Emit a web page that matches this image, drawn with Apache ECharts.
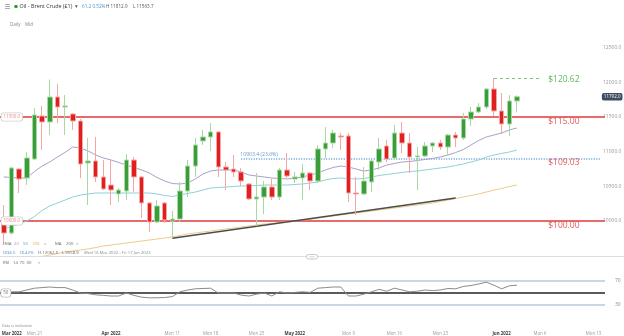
<!DOCTYPE html>
<html>
<head>
<meta charset="utf-8">
<script src="https://cdn.jsdelivr.net/npm/echarts@6/dist/echarts.min.js"></script>
<style>
html,body{margin:0;padding:0;background:#fff;}
#chart{width:624px;height:336px;}
</style>
</head>
<body>
<div id="chart"></div>
<script>
// Daily sessions (incl. Sunday sessions) and the empty days ahead on the time scale
const tradeDates = [
  '2022-03-16','2022-03-17','2022-03-18','2022-03-20','2022-03-21','2022-03-22','2022-03-23','2022-03-24','2022-03-25',
  '2022-03-27','2022-03-28','2022-03-29','2022-03-30','2022-03-31','2022-04-01',
  '2022-04-03','2022-04-04','2022-04-05','2022-04-06','2022-04-07','2022-04-08',
  '2022-04-10','2022-04-11','2022-04-12','2022-04-13','2022-04-14',
  '2022-04-17','2022-04-18','2022-04-19','2022-04-20','2022-04-21','2022-04-22',
  '2022-04-24','2022-04-25','2022-04-26','2022-04-27','2022-04-28','2022-04-29',
  '2022-05-01','2022-05-02','2022-05-03','2022-05-04','2022-05-05','2022-05-06',
  '2022-05-08','2022-05-09','2022-05-10','2022-05-11','2022-05-12','2022-05-13',
  '2022-05-15','2022-05-16','2022-05-17','2022-05-18','2022-05-19','2022-05-20',
  '2022-05-22','2022-05-23','2022-05-24','2022-05-25','2022-05-26','2022-05-27',
  '2022-05-29','2022-05-30','2022-05-31','2022-06-01','2022-06-02','2022-06-03'
];
const futureDates = ['2022-06-04','2022-06-05','2022-06-06','2022-06-07','2022-06-08','2022-06-09',
  '2022-06-10','2022-06-11','2022-06-12','2022-06-13','2022-06-14'];

const openP = [9957.5,9827,10750,10620,10894,11514,11428,11788,11644,11543,11442,10837,10866,10635,10519,10390,10433,10880,10635,10260,
  9986,10260,10000,10029,10433,10793,11154,11212,11284,10779,10750,10707,10534,10318,10346,10491,10346,10736,10606,10620,
  10692,10577,11039,11125,11226,11226,10404,10390,10563,10851,11082,10909,11269,11125,10923,10938,11082,11125,11067,11240,
  11197,11471,11572,11644,11904,11587,11399,11730.8];
const highP = [10231,10780,10765,10995,11630,11659,12040,11976,11817,11558,11471,11197,11212,10880,10880,10476,10966,10923,10650,10275,
  10303,10275,10144,10563,10880,11197,11313,11413,11298,10851,10952,10765,10548,10692,10577,10606,10765,10981,10707,10822,
  10707,11096,11356,11313,11269,11269,10635,10779,10880,11197,11168,11385,11428,11269,11067,11140,11140,11168,11255,11284,
  11558,11644,11702,11918,12062,11846,11817,11812.9];
const lowP = [9697,9800,10404,10519,10880,11024,11240,11413,11240,11313,10620,10231,10563,10447,10231,10274,10303,10418,10044,9842,
  9971,9971,9755,9986,10346,10635,11096,11010,10635,10447,10635,10505,10303,9928,10101,10303,10303,10620,10548,10303,
  10447,10548,10909,11053,11024,10274,10087,10375,10418,10736,10851,10880,10981,10692,10447,10923,10995,11024,10952,11067,
  11168,11370,11558,11615,11514,11255,11226,11563.7];
const closeP = [9827,10765,10606,10909,11529,11428,11788,11644,11659,11442,10822,10866,10635,10462,10447,10447,10880,10635,10260,9986,
  10217,10015,10029,10433,10793,11096,11212,11284,10779,10736,10707,10577,10318,10346,10491,10346,10736,10649,10635,10692,
  10577,11039,11125,11269,11212,10404,10390,10577,10866,11039,10894,11269,11125,10923,10938,11082,11125,11067,11240,11197,
  11471,11572,11644,11904,11587,11399,11730.8,11792];

const ema20 = [10635,10628,10620,10620,10714,10793,10851,10923,10990,11067,11053,11010,10952,10909,10880,10844,10808,10772,10736,10692,
  10628,10577,10541,10534,10548,10606,10678,10721,10736,10736,10736,10707,10664,10649,10635,10620,10613,10606,10620,10635,
  10664,10692,10736,10772,10793,10779,10750,10721,10736,10765,10808,10830,10851,10858,10873,10887,10902,10923,10952,10988,
  11031,11096,11161,11212,11240,11269,11313,11341];
const ema50 = [9885,9921,9957,10000,10065,10152,10217,10260,10303,10346,10375,10390,10404,10404,10404,10404,10404,10404,10404,10404,
  10390,10368,10354,10375,10397,10418,10447,10476,10483,10491,10498,10505,10505,10512,10519,10519,10519,10519,10527,10534,
  10548,10563,10592,10613,10620,10613,10606,10613,10635,10656,10671,10685,10700,10714,10721,10736,10750,10765,10779,10801,
  10822,10851,10880,10923,10952,10974,10995,11024];
const ema100 = [9409,9424,9438,9452,9467,9488,9510,9532,9553,9568,9582,9597,9618,9640,9654,9669,9683,9697,9712,9726,
  9741,9755,9770,9791,9813,9827,9842,9856,9871,9885,9899,9914,9928,9943,9957,9964,9979,9993,10000,10015,
  10022,10044,10058,10072,10087,10101,10116,10130,10144,10159,10173,10188,10202,10217,10231,10245,10260,10282,10303,10325,
  10346,10368,10390,10418,10447,10469,10498,10519];
const rsi14 = [52,52,52,55,58,59,60,59,59,55,50,49,47,46,45,45,50,46,43,42,
  42,42.5,44,52,55,57,57.5,58,50,50,50,46.5,45,48,50,45,52,50,51,52,
  51,58,59,60,60,45,45,48,52,56,53,58,55,52,53,55,54,55,57.5,57,
  61,62.5,65,68,63,57,62,63];

// Support trendline drawn across the April / May lows
const trendDates = ['2022-04-11','2022-05-25'];
const trendValues = [9750, 10332];

// Horizontal levels
const levelValues = [11500, 10000];
const fibLevel = 10903.4;
const fibRatio = '23.6%';
const fibFrom = '2022-04-22';
const swingHighDate = '2022-05-31';
const swingLineEnd = '2022-06-06';
const rsiLevels = [70, 30];
const rsiMid = 50;
const periodLow = 9558.9;

// Bottom time-axis labels
const tickDates = ['2022-03-16','2022-03-21','2022-04-01','2022-04-11','2022-04-18','2022-04-25','2022-05-01',
  '2022-05-09','2022-05-16','2022-05-23','2022-06-01','2022-06-06','2022-06-13'];
const tickTexts = ['Mar 2022','Mon 21','Apr 2022','Mon 11','Mon 18','Mon 25','May 2022',
  'Mon 9','Mon 16','Mon 23','Jun 2022','Mon 6','Mon 13'];

const FONT = '"Open Sans", "DejaVu Sans", sans-serif';
const cats = tradeDates.concat(futureDates);
const lastCat = cats[cats.length - 1];
const n = closeP.length;
const candles = openP.map((o, i) => [o, closeP[i], lowP[i], highP[i]]);
const swingHigh = Math.max.apply(null, highP);
const dollars = v => '$' + (v / 100).toFixed(2);

const dayChg = closeP[n - 1] - closeP[n - 2];
const dayPct = dayChg / closeP[n - 2] * 100;
const rangeChg = closeP[n - 1] - openP[0];
const rangePct = rangeChg / openP[0] * 100;

const RED = '#e35b5b';
const GREEN_TXT = '#5cb85c';

function txt(x, y, s, fill, size, weight) {
  return {
    type: 'text', x: x, y: y, silent: true, z: 50,
    style: { text: s, fill: fill, font: (weight || 'normal') + ' ' + size + 'px ' + FONT,
      verticalAlign: 'middle', textVerticalAlign: 'middle', align: 'left' }
  };
}

function tag(date, value, text, color, size, offset) {
  return {
    coord: [date, value], symbol: 'circle', symbolSize: 0,
    label: { show: true, position: 'inside', formatter: text, color: color, fontSize: size,
      fontFamily: FONT, offset: offset }
  };
}

function boxTag(date, value, text, color, offset, bg, border) {
  return {
    coord: [date, value], symbol: 'circle', symbolSize: 0,
    label: { show: true, position: 'inside', formatter: text, color: color, fontSize: 4.5,
      fontFamily: FONT, offset: offset, backgroundColor: bg, borderColor: border,
      borderWidth: border ? 0.8 : 0, borderRadius: 2, padding: [1.5, 2, 1, 2] }
  };
}

const HS = 5.4;   // header title size
const NS = 4.6;   // header figures size
const LS = 4.3;   // legend text size
const graphics = [
  // header
  { type: 'rect', shape: { x: 5, y: 4, width: 5, height: 0.8 }, style: { fill: '#999' }, silent: true },
  { type: 'rect', shape: { x: 5, y: 6, width: 5, height: 0.8 }, style: { fill: '#999' }, silent: true },
  { type: 'rect', shape: { x: 5, y: 8, width: 5, height: 0.8 }, style: { fill: '#999' }, silent: true },
  { type: 'circle', shape: { cx: 16, cy: 6.5, r: 1.8 }, style: { fill: '#2e9e2e' }, silent: true },
  txt(19.5, 6.8, 'Oil - Brent Crude (£1)', '#333', HS),
  txt(75, 6.8, '▾', '#555', HS),
  txt(82, 6.8, dayChg.toFixed(1), '#4a8fd6', NS),
  txt(92.5, 6.8, dayPct.toFixed(2) + '%', '#4a8fd6', NS),
  txt(106, 6.8, 'H ' + highP[n - 1].toFixed(1), '#555', NS),
  txt(133, 6.8, 'L ' + lowP[n - 1].toFixed(1), '#555', NS),
  txt(10, 24.5, 'Daily', '#888', 4.6),
  txt(25, 24.5, 'Mid', '#888', 4.6),
  // indicator legend
  txt(2.5, 244, 'EMA', '#666', LS),
  txt(14, 244, '20', '#9c8cc4', LS),
  txt(23, 244, '50', '#4aa3c9', LS),
  txt(32, 244, '100', '#e3a33f', LS),
  txt(44, 244, '×', '#888', LS),
  txt(55, 244, 'MA', '#666', LS),
  txt(66, 244, '200', '#666', LS),
  txt(76, 244, '×', '#888', LS),
  txt(2, 253, rangeChg.toFixed(1), '#4a8fd6', LS),
  txt(19, 253, rangePct.toFixed(2) + '%', '#4a8fd6', LS),
  txt(38, 253, 'H ' + swingHigh.toFixed(1), '#666', LS),
  txt(62, 253, 'L ' + periodLow.toFixed(1), '#666', LS),
  txt(84, 253, 'Wed 16 Mar 2022 - Fri 17 Jun 2022', '#888', 4.2),
  // pane separator with drag handle
  { type: 'line', shape: { x1: 0, y1: 256.5, x2: 624, y2: 256.5 }, style: { stroke: '#dddddd', lineWidth: 1 }, silent: true, z: 40 },
  { type: 'rect', shape: { x: 306.5, y: 254.5, width: 11, height: 4.5, r: 2 }, style: { fill: '#fff', stroke: '#bbb', lineWidth: 0.8 }, silent: true, z: 41 },
  { type: 'line', shape: { x1: 309.5, y1: 256.7, x2: 314.5, y2: 256.7 }, style: { stroke: '#bbb', lineWidth: 0.6 }, silent: true, z: 42 },
  txt(3, 263, 'RSI', '#666', LS),
  txt(13, 263, '14', '#666', LS),
  txt(19.5, 263, '70', '#666', LS),
  txt(26.5, 263, '30', '#666', LS),
  txt(38, 263, '×', '#888', LS),
  txt(2, 326, 'Data is indicative', '#888', 3.8)
];

const chart = echarts.init(document.getElementById('chart'), null, { renderer: 'canvas' });
chart.setOption({
  animation: false,
  backgroundColor: '#fff',
  textStyle: { fontFamily: FONT },
  grid: [
    { left: 0, width: 605, top: 30.3, height: 225.4, outerBoundsMode: 'none', containLabel: false },
    { left: 0, width: 605, top: 263, height: 60, outerBoundsMode: 'none', containLabel: false }
  ],
  xAxis: [
    { type: 'category', gridIndex: 0, data: cats, boundaryGap: true,
      axisLine: { show: false }, axisTick: { show: false }, axisLabel: { show: false }, splitLine: { show: false } },
    { type: 'category', gridIndex: 1, data: cats, boundaryGap: true,
      axisLine: { show: false }, axisTick: { show: false }, splitLine: { show: false },
      axisLabel: {
        margin: 8.5, hideOverlap: false, showMinLabel: true, showMaxLabel: true,
        interval: (i, v) => tickDates.indexOf(v) >= 0,
        formatter: (v, i) => {
          const s = tickTexts[tickDates.indexOf(v)] || '';
          if (i === 0) return '{f|' + s + '}';
          return /\d{4}$/.test(s) ? '{m|' + s + '}' : '{d|' + s + '}';
        },
        rich: {
          f: { fontWeight: 'bold', color: '#3a3a3a', fontSize: 4.4, fontFamily: FONT, padding: [0, 0, 0, 16] },
          m: { fontWeight: 'bold', color: '#3a3a3a', fontSize: 4.4, fontFamily: FONT },
          d: { color: '#9a9a9a', fontSize: 4.4, fontFamily: FONT }
        }
      } }
  ],
  yAxis: [
    { type: 'value', gridIndex: 0, position: 'right', min: 9500, max: 12750, interval: 500,
      splitLine: { show: false }, axisLine: { show: false }, axisTick: { show: false },
      axisLabel: { margin: -2, fontSize: 5, color: '#999', showMinLabel: false, showMaxLabel: false,
        formatter: v => v.toFixed(1), fontFamily: FONT } },
    { type: 'value', gridIndex: 1, min: 0, max: 100, show: false, splitLine: { show: false } }
  ],
  graphic: graphics,
  series: [
    {
      name: 'levels', type: 'line', xAxisIndex: 0, yAxisIndex: 0, data: [], z: 1, silent: true,
      markLine: {
        silent: true, symbol: ['none', 'none'], z: 1, label: { show: false },
        data: [
          ...levelValues.map(v => ({ yAxis: v, lineStyle: { color: RED, width: 2, type: 'solid', opacity: 0.9 } })),
          [ { coord: [fibFrom, fibLevel], lineStyle: { color: '#5b9bd5', width: 1.5, type: [1, 1.5] } },
            { coord: [lastCat, fibLevel] } ],
          [ { coord: [swingHighDate, swingHigh], lineStyle: { color: '#7cc47c', width: 1, type: [3, 3] } },
            { coord: [swingLineEnd, swingHigh] } ]
        ]
      },
      markPoint: {
        silent: true, z: 6,
        data: [
          ...levelValues.map(v => tag('2022-06-09', v, dollars(v), RED, 8.5, [1, 4.5])),
          tag('2022-06-09', fibLevel, dollars(fibLevel), RED, 8.5, [1, 4.5]),
          tag('2022-06-09', swingHigh, dollars(swingHigh), GREEN_TXT, 8.5, [1, 1.5]),
          tag('2022-04-25', fibLevel, fibLevel.toFixed(1) + ' (' + fibRatio + ')', '#5b9bd5', 5.1, [2.5, -3.5]),
          ...levelValues.map(v => boxTag(cats[0], v, v.toFixed(1), '#e88a8a', [8, 0], '#fff', '#cfcfcf')),
          boxTag(lastCat, closeP[n - 1], closeP[n - 1].toFixed(1), '#fff', [11, 0], '#3e4c63', null)
        ]
      }
    },
    {
      name: 'EMA 100', type: 'line', xAxisIndex: 0, yAxisIndex: 0, data: ema100, symbol: 'none',
      lineStyle: { color: '#efc98c', width: 1 }, z: 2, silent: true
    },
    {
      name: 'Trend', type: 'line', xAxisIndex: 0, yAxisIndex: 0, symbol: 'none',
      data: trendDates.map((d, i) => [d, trendValues[i]]),
      lineStyle: { color: '#4d4d4d', width: 1.5 }, z: 3, silent: true
    },
    {
      name: 'EMA 50', type: 'line', xAxisIndex: 0, yAxisIndex: 0, data: ema50, symbol: 'none',
      lineStyle: { color: '#8fd0d7', width: 1 }, z: 2, silent: true
    },
    {
      name: 'EMA 20', type: 'line', xAxisIndex: 0, yAxisIndex: 0, data: ema20, symbol: 'none',
      lineStyle: { color: '#ab9fc8', width: 1 }, z: 2, silent: true
    },
    {
      name: 'Brent', type: 'candlestick', xAxisIndex: 0, yAxisIndex: 0, data: candles, barWidth: 5, z: 4,
      itemStyle: { color: '#3a9c3a', color0: '#e21f1f', borderColor: '#a8d9a2', borderColor0: '#f4a6a6', borderWidth: 1 }
    },
    {
      name: 'RSI', type: 'line', xAxisIndex: 1, yAxisIndex: 1, data: rsi14, symbol: 'none', z: 4, silent: true,
      lineStyle: { color: '#8a8a8a', width: 1 },
      markLine: {
        silent: true, symbol: ['none', 'none'], z: 1,
        data: [
          ...rsiLevels.map(v => ({ yAxis: v, lineStyle: { color: '#b6c8dc', width: 1.5, type: 'solid' },
            label: { show: true, position: 'end', distance: 10, formatter: String(v), color: '#888', fontSize: 5, fontFamily: FONT } })),
          { yAxis: rsiMid, lineStyle: { color: '#5a5a5a', width: 2, type: 'solid' }, label: { show: false } }
        ]
      },
      markPoint: {
        silent: true, z: 6,
        data: [ boxTag(cats[0], rsiMid, String(rsiMid), '#777', [2, 0], '#fff', '#bbb') ]
      }
    }
  ]
});
</script>
</body>
</html>
